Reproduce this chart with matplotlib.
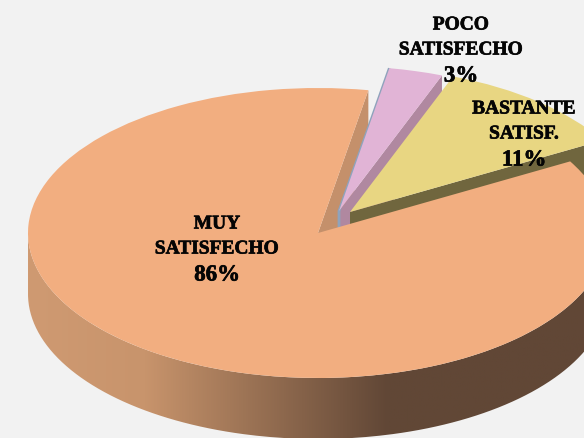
import numpy as np
import matplotlib.pyplot as plt
import matplotlib.patheffects as pe
from matplotlib.colors import LinearSegmentedColormap
from matplotlib.patches import PathPatch
from matplotlib.path import Path

nombres = [['MUY', 'SATISFECHO'], ['BASTANTE', 'SATISF.'], ['POCO', 'SATISFECHO']]
valores = [86, 11, 3]
colores = ['#F2AE80', '#E8D682', '#E1B4D6']
colores_cara = ['#C4906B', '#70663E', '#B088A0']

# escala en pixeles de la imagen
W, H = 584, 439
CX, CY = 318, 234
RX, RY = 290, 145
PROF = 61 / RY
INICIO = 80

fig = plt.figure(figsize=(W / 100, H / 100), dpi=100, facecolor='#F2F2F2')
ax = fig.add_axes([0, 0, 1, 1])

wedges = ax.pie(valores, explode=[0, 0.18, 0.18], startangle=INICIO, colors=colores,
                wedgeprops={'linewidth': 0})[0]
ax.set_aspect('auto')
ax.set_axis_off()

# las porciones separadas no salen justo en la bisectriz
wedges[2].set_center((21 / RX, 22 / RY))
wedges[1].set_center((32 / RX, 21 / RY))

limites = INICIO + np.cumsum([0] + valores) * 3.6


def punto(centro, ang):
    return centro[0] + np.cos(np.radians(ang)), centro[1] + np.sin(np.radians(ang))


def cara(centro, ang, color, z):
    x, y = punto(centro, ang)
    ax.fill([centro[0], x, x, centro[0]], [centro[1], y, y - PROF, centro[1] - PROF],
            color=color, lw=0, zorder=z)


# caras de corte, de atras hacia adelante
cara(wedges[0].center, limites[0], colores_cara[0], 2)
cara(wedges[2].center, limites[2], colores_cara[2], 3)
x2, y2 = punto(wedges[2].center, limites[3])
c2 = wedges[2].center
ax.plot([x2, c2[0], c2[0]], [y2, c2[1], c2[1] - PROF], color='#8FA3BC', lw=2,
        solid_capstyle='butt', zorder=3.5)
wedges[2].set_zorder(4)
cara(wedges[1].center, limites[1], colores_cara[1], 5)
wedges[1].set_zorder(6)

# pared exterior con degradado
t = np.radians(np.linspace(180, 360, 200))
xs = np.r_[np.cos(t), np.cos(t[::-1])]
ys = np.r_[np.sin(t), np.sin(t[::-1]) - PROF]
pared = PathPatch(Path(np.c_[xs, ys]), transform=ax.transData, fc='none', lw=0)
ax.add_patch(pared)
cmap = LinearSegmentedColormap.from_list('pared', [(0, '#CF9A72'), (0.2, '#C8946C'),
                                                   (0.62, '#614736'), (1, '#614736')])
img = ax.imshow(np.linspace(0, 1, 256)[None, :], cmap=cmap, aspect='auto', zorder=7,
                extent=[-1, 1, -1 - PROF, 0])
img.set_clip_path(pared)
ax.set_xlim(-CX / RX, (W - CX) / RX)
ax.set_ylim(-(H - CY) / RY, CY / RY)
wedges[0].set_zorder(8)

fuente = {'family': ['Liberation Serif', 'DejaVu Serif'], 'weight': 'bold',
          'color': '#050505', 'ha': 'center', 'va': 'center', 'zorder': 10,
          'path_effects': [pe.withStroke(linewidth=0.5, foreground='#050505')]}
pos_etiquetas = [(217, 225), (524, 110), (461, 26)]
for lineas, v, (px, py) in zip(nombres, valores, pos_etiquetas):
    for i, linea in enumerate(lineas):
        ax.text((px - CX) / RX, (CY - py - 25 * i) / RY, linea, fontsize=14, **fuente)
    ax.text((px - CX) / RX, (CY - py - 51) / RY, f'{v}%', fontsize=16.5, **fuente)

fig.savefig('out.png', dpi=100, facecolor=fig.get_facecolor())
